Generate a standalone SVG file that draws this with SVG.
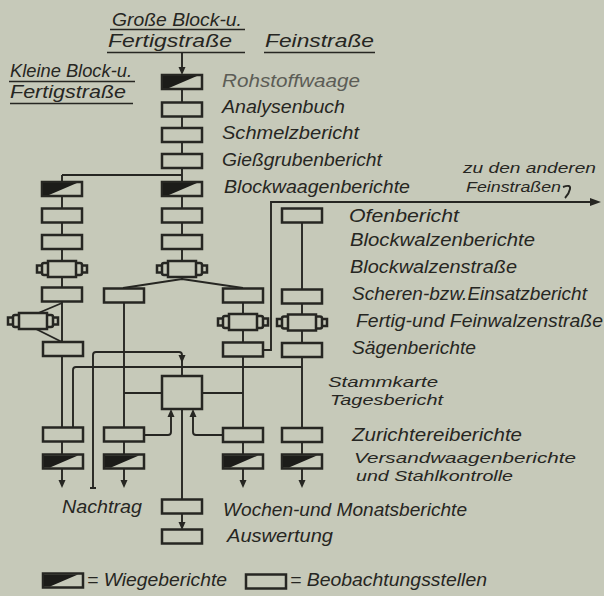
<svg xmlns="http://www.w3.org/2000/svg" xmlns:xlink="http://www.w3.org/1999/xlink" width="604" height="596" viewBox="0 0 604 596">
<style>
.t{font-family:"Liberation Sans",Arial,sans-serif;font-style:italic;font-size:17.5px;fill:#262622;}
.sm{font-size:15.5px;}
.faded{fill:#5c5d56;}
.ln{fill:none;stroke:#262622;stroke-width:1.9;}
.ul{fill:none;stroke:#262622;stroke-width:1.7;}
.bx{fill:#c6c9b9;stroke:#262622;stroke-width:2.5;}
.blk{fill:#1c1c19;}
.ah{fill:#262622;}
</style>
<defs>
<g id="obs"><rect class="bx" x="-20" y="-7" width="40" height="14"/></g>
<g id="wb"><rect class="bx" x="-20" y="-7" width="40" height="14"/><polygon class="blk" points="-19,-6 15,-6 -13,6 -19,6"/></g>
<g id="mill">
<rect class="bx" x="-25" y="-3.5" width="6" height="7"/>
<rect class="bx" x="19" y="-3.5" width="6" height="7"/>
<rect class="bx" x="-20" y="-6" width="7" height="12" rx="2"/>
<rect class="bx" x="13" y="-6" width="7" height="12" rx="2"/>
<rect class="bx" x="-14" y="-8" width="28" height="16"/>
</g>
<polygon id="adown" class="ah" points="-3.5,-8 3.5,-8 0,0"/>
<polygon id="aup" class="ah" points="-3.5,8 3.5,8 0,0"/>
</defs>
<rect width="604" height="596" fill="#c6c9b9"/>

<g id="connectors">
<path class="ln" d="M182,53 L182,70"/>
<use xlink:href="#adown" x="182" y="75"/>
<path class="ln" d="M182,89 L182,279"/>
<path class="ln" d="M62,175 L182,175 M62,175 L62,428"/>
<path class="ln" d="M62,303 L36,314 M36,329 L62,342"/>
<path class="ln" d="M123,288 L182,279 L243,288"/>
<path class="ln" d="M124,303 L124,428"/>
<path class="ln" d="M243,303 L243,428"/>
<path class="ln" d="M262,350 L271,350 L271,202 L594,202"/>
<polygon class="ah" points="590,198 601,202 590,206"/>
<path class="ln" d="M563,187 Q571,184 570,189 Q569,194 565,198"/>
<path class="ln" d="M302,223 L302,428"/>
<path class="ln" d="M93,367 L93,355 Q93,352 96,352 L179,352 Q182,352 182,355 L182,376"/>
<use xlink:href="#adown" x="182" y="363"/>
<path class="ln" d="M73,428 L73,370 Q73,367 76,367 L302,367"/>
<path class="ln" d="M93,367 L93,488 M90,488 L96,488"/>
<path class="ln" d="M124,393 L162,393 M202,393 L243,393"/>
<path class="ln" d="M143,435 L168,435 Q171,435 171,432 L171,412"/>
<use xlink:href="#aup" x="171" y="409"/>
<path class="ln" d="M224,435 L196,435 Q193,435 193,432 L193,412"/>
<use xlink:href="#aup" x="193" y="409"/>
<path class="ln" d="M62,441 L62,454 M124,441 L124,454 M243,441 L243,454 M302,441 L302,454"/>
<path class="ln" d="M62,469 L62,482 M124,469 L124,482 M243,469 L243,482 M302,469 L302,482"/>
<use xlink:href="#adown" x="62" y="488"/>
<use xlink:href="#adown" x="124" y="488"/>
<use xlink:href="#adown" x="243" y="488"/>
<use xlink:href="#adown" x="302" y="488"/>
<path class="ln" d="M182,409 L182,500 M182,513 L182,524"/>
<use xlink:href="#adown" x="182" y="530"/>
</g>

<g id="headings">
<text class="t" x="112" y="26" textLength="130" lengthAdjust="spacingAndGlyphs">Große Block-u.</text>
<path class="ul" d="M110,29.5 L245,29.5"/>
<text class="t" x="108" y="47" textLength="124" lengthAdjust="spacingAndGlyphs">Fertigstraße</text>
<path class="ul" d="M107,52.5 L245,52.5"/>
<text class="t" x="265" y="47" textLength="109" lengthAdjust="spacingAndGlyphs">Feinstraße</text>
<path class="ul" d="M264,52.5 L375,52.5"/>
<text class="t" x="10" y="77" textLength="122" lengthAdjust="spacingAndGlyphs">Kleine Block-u.</text>
<path class="ul" d="M9,81.5 L135,81.5"/>
<text class="t" x="10" y="98" textLength="116" lengthAdjust="spacingAndGlyphs">Fertigstraße</text>
<path class="ul" d="M10,103.5 L133,103.5"/>
</g>

<g id="col-left">
<use xlink:href="#wb" x="62" y="189"/>
<use xlink:href="#obs" x="62" y="215.5"/>
<use xlink:href="#obs" x="62" y="242"/>
<use xlink:href="#mill" x="62" y="269"/>
<use xlink:href="#obs" x="62" y="294.5"/>
<use xlink:href="#mill" x="33" y="321"/>
<use xlink:href="#obs" x="63" y="349"/>
<use xlink:href="#obs" x="63" y="434.5"/>
<use xlink:href="#wb" x="63" y="461.5"/>
</g>

<g id="col-mid">
<use xlink:href="#wb" x="182" y="82"/>
<use xlink:href="#obs" x="182" y="109.5"/>
<use xlink:href="#obs" x="182" y="135"/>
<use xlink:href="#obs" x="182" y="161"/>
<use xlink:href="#wb" x="182" y="189"/>
<use xlink:href="#obs" x="182" y="215.5"/>
<use xlink:href="#obs" x="182" y="242"/>
<use xlink:href="#mill" x="182" y="269"/>
</g>

<g id="sub-left">
<use xlink:href="#obs" x="124" y="295.5"/>
<use xlink:href="#obs" x="124" y="434.5"/>
<use xlink:href="#wb" x="124" y="461.5"/>
</g>

<g id="sub-right">
<use xlink:href="#obs" x="243" y="295.5"/>
<use xlink:href="#mill" x="243" y="322"/>
<use xlink:href="#obs" x="243" y="349.5"/>
<use xlink:href="#obs" x="243" y="435"/>
<use xlink:href="#wb" x="243" y="461.5"/>
</g>

<g id="col-fein">
<use xlink:href="#obs" x="302" y="215.5"/>
<use xlink:href="#obs" x="302" y="296.5"/>
<use xlink:href="#mill" x="302" y="322.5"/>
<use xlink:href="#obs" x="302" y="350"/>
<use xlink:href="#obs" x="302" y="435"/>
<use xlink:href="#wb" x="302" y="461.5"/>
</g>

<g id="center">
<rect class="bx" x="162" y="376" width="40" height="33"/>
</g>
<g id="center-bottom">
<use xlink:href="#obs" x="182" y="506.5"/>
<use xlink:href="#obs" x="182" y="536.5"/>
</g>

<g id="labels">
<text class="t faded" x="222" y="87" textLength="138" lengthAdjust="spacingAndGlyphs">Rohstoffwaage</text>
<text class="t" x="222" y="113" textLength="123" lengthAdjust="spacingAndGlyphs">Analysenbuch</text>
<text class="t" x="222" y="139" textLength="137" lengthAdjust="spacingAndGlyphs">Schmelzbericht</text>
<text class="t" x="222" y="166" textLength="160" lengthAdjust="spacingAndGlyphs">Gießgrubenbericht</text>
<text class="t" x="224" y="193" textLength="186" lengthAdjust="spacingAndGlyphs">Blockwaagenberichte</text>
<text class="t sm" x="463" y="173" textLength="133" lengthAdjust="spacingAndGlyphs">zu den anderen</text>
<text class="t sm" x="466" y="192" textLength="95" lengthAdjust="spacingAndGlyphs">Feinstraßen</text>
<text class="t" x="349" y="222" textLength="110" lengthAdjust="spacingAndGlyphs">Ofenbericht</text>
<text class="t" x="350" y="246" textLength="185" lengthAdjust="spacingAndGlyphs">Blockwalzenberichte</text>
<text class="t" x="350" y="273" textLength="167" lengthAdjust="spacingAndGlyphs">Blockwalzenstraße</text>
<text class="t" x="352" y="300" textLength="235" lengthAdjust="spacingAndGlyphs">Scheren-bzw.Einsatzbericht</text>
<text class="t" x="356" y="327" textLength="247" lengthAdjust="spacingAndGlyphs">Fertig-und Feinwalzenstraße</text>
<text class="t" x="352" y="354" textLength="124" lengthAdjust="spacingAndGlyphs">Sägenberichte</text>
<text class="t sm" x="328" y="387" textLength="110" lengthAdjust="spacingAndGlyphs">Stammkarte</text>
<text class="t sm" x="330" y="405" textLength="113" lengthAdjust="spacingAndGlyphs">Tagesbericht</text>
<text class="t" x="352" y="441" textLength="170" lengthAdjust="spacingAndGlyphs">Zurichtereiberichte</text>
<text class="t sm" x="354" y="463" textLength="222" lengthAdjust="spacingAndGlyphs">Versandwaagenberichte</text>
<text class="t sm" x="356" y="481" textLength="157" lengthAdjust="spacingAndGlyphs">und Stahlkontrolle</text>
<text class="t" x="62" y="513" textLength="80" lengthAdjust="spacingAndGlyphs">Nachtrag</text>
<text class="t" x="223" y="516" textLength="244" lengthAdjust="spacingAndGlyphs">Wochen-und Monatsberichte</text>
<text class="t" x="227" y="542" textLength="106" lengthAdjust="spacingAndGlyphs">Auswertung</text>
</g>

<g id="legend">
<use xlink:href="#wb" x="63" y="580.5"/>
<text class="t" x="87" y="586" textLength="140" lengthAdjust="spacingAndGlyphs">= Wiegeberichte</text>
<use xlink:href="#obs" x="266" y="581.5"/>
<text class="t" x="290" y="586" textLength="197" lengthAdjust="spacingAndGlyphs">= Beobachtungsstellen</text>
</g>
</svg>
